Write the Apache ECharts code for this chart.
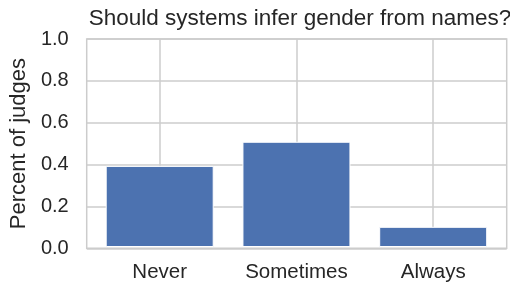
<!DOCTYPE html>
<html>
<head>
<meta charset="utf-8">
<script src="https://cdn.jsdelivr.net/npm/echarts@6/dist/echarts.min.js"></script>
<style>
  html, body { margin: 0; padding: 0; background: #fff; }
  #chart { width: 510px; height: 283px; }
</style>
</head>
<body>
<div id="chart"></div>
<script>
// data
var categories = ['Never', 'Sometimes', 'Always'];
var shares = [0.39, 0.506, 0.097];
var yTicks = [0, 0.2, 0.4, 0.6, 0.8, 1.0];

var textColor = '#262626';
var gridColor = '#cccccc';
var font = 'Liberation Sans, Arial, sans-serif';

var chart = echarts.init(document.getElementById('chart'));

// bars sit on a value axis 0..2 (one unit per category), the frame comes from the outer grid
var barData = shares.map(function (v, i) { return [i, v]; });

chart.setOption({
    animation: false,
    title: {
        text: 'Should systems infer gender from names?',
        left: 295,
        top: 2,
        textAlign: 'center',
        textStyle: { fontFamily: font, fontSize: 22.5, fontWeight: 'normal', color: textColor }
    },
    grid: [
        { left: 159.7, right: 76.8, top: 39, bottom: 34.7 },
        { left: 85.5, right: 3.3, top: 39, bottom: 34.7, show: true,
          borderColor: gridColor, borderWidth: 1.5, backgroundColor: '#fff' }
    ],
    xAxis: [
        {
            type: 'value', gridIndex: 0, min: 0, max: 2, interval: 1,
            axisLine: { show: false }, axisTick: { show: false },
            splitLine: { show: true, lineStyle: { color: gridColor, width: 1.5 } },
            axisLabel: {
                margin: 15, fontFamily: font, fontSize: 20.5, color: textColor,
                formatter: function (v) { return categories[v] || ''; }
            }
        },
        { type: 'value', gridIndex: 1, min: 0, max: 1, show: false }
    ],
    yAxis: [
        {
            type: 'value', gridIndex: 1, min: yTicks[0], max: yTicks[yTicks.length - 1], interval: 0.2,
            name: 'Percent of judges', nameLocation: 'middle', nameGap: 55,
            nameTextStyle: { fontFamily: font, fontSize: 22, color: textColor },
            axisLine: { show: false }, axisTick: { show: false },
            splitLine: { show: true, lineStyle: { color: gridColor, width: 1.5 } },
            axisLabel: {
                margin: 18, fontFamily: font, fontSize: 20, color: textColor,
                formatter: function (v) { return v.toFixed(1); }
            }
        },
        { type: 'value', gridIndex: 0, min: 0, max: 1, show: false }
    ],
    series: [{
        type: 'bar',
        xAxisIndex: 0,
        yAxisIndex: 1,
        data: barData,
        barWidth: 108,
        clip: false,
        itemStyle: { color: '#4c72b0', borderColor: '#fff', borderWidth: 1 }
    }]
});
</script>
</body>
</html>
